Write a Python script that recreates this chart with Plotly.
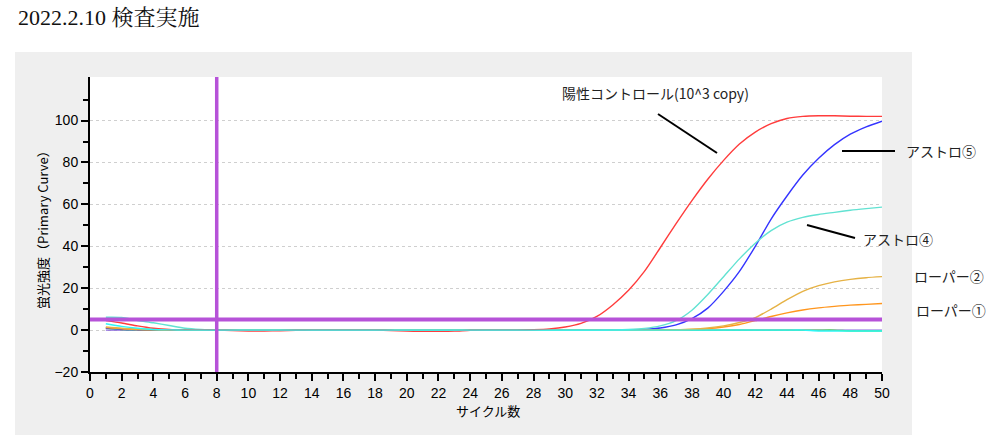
import plotly.graph_objects as go

# ---------------- data ----------------
cycles = list(range(1, 51))

positive_control = [4.5, 3.4, 2.0, 0.9, 0.3, 0.1, 0.1, 0.0, -0.2, -0.4,
                    -0.4, -0.3, -0.1, 0.0, 0.0, 0.0, 0.0, 0.0, -0.2, -0.5,
                    -0.6, -0.6, -0.5, -0.1, 0.0, 0.0, 0.0, 0.2, 0.6, 1.5,
                    3.2, 6.5, 12.0, 19.0, 28.0, 39.3, 50.8, 61.8, 72.0, 81.0,
                    88.8, 94.5, 98.5, 101.0, 102.0, 102.3, 102.3, 102.1, 102.0, 102.0]

astro5 = [1.0, 0.4, 0.2, 0.1] + [0.0] * 30 + \
         [0.3, 1.0, 2.5, 5.5, 10.5, 18.5, 28.0, 40.0, 53.0, 64.0,
          74.0, 82.0, 88.5, 93.5, 97.0, 99.7]

astro4 = [6.1, 6.0, 4.6, 3.5, 2.2, 0.9, 0.3] + [0.0] * 25 + \
         [0.1, 0.3, 0.8, 2.0, 4.5, 9.5, 17.0, 25.5, 34.0, 41.5,
          47.5, 51.5, 53.8, 55.2, 56.2, 57.2, 58.0, 58.7]

roper2 = [1.5, 0.9, 0.6, 0.4, 0.2, 0.1] + [0.0] * 30 + \
         [0.1, 0.4, 1.0, 2.0, 3.6, 6.0, 10.0, 14.5, 18.5, 21.2,
          23.0, 24.2, 25.0, 25.5]

roper1 = [1.2, 0.6, 0.3, 0.1] + [0.0] * 32 + \
         [0.1, 0.3, 0.7, 1.5, 2.7, 4.5, 6.5, 8.2, 9.6, 10.6,
          11.3, 11.9, 12.3, 12.7]

neg_purple = [0.0] * 50
neg_green = [0.8, 0.3, 0.1] + [0.0] * 44 + [-0.4, -0.4, -0.4]
neg_cyan = [3.0, 1.8, 0.9, 0.3, 0.1] + [0.0] * 40 + [-0.4] * 5

threshold = 5
cutoff_cycle = 8

x_major_ticks = list(range(0, 51, 2))
x_minor_ticks = list(range(1, 50, 2))
y_major_ticks = [-20, 0, 20, 40, 60, 80, 100]
y_minor_ticks = [-10, 10, 30, 50, 70, 90, 110]

series = [
    ("negative (purple)", neg_purple, "#8866dd"),
    ("negative (green)", neg_green, "#55dd55"),
    ("アストロ⑤", astro5, "#3434ff"),
    ("ローパー①", roper1, "#ff961e"),
    ("ローパー②", roper2, "#e6b245"),
    ("アストロ④", astro4, "#62e2d2"),
    ("陽性コントロール", positive_control, "#ff3c3c"),
    ("negative (cyan)", neg_cyan, "#2ef6f6"),
]

# ---------------- geometry helpers ----------------
W, H = 1000, 441
L, R, T, B = 90, 118, 77, 69
PW = W - L - R
PH = H - T - B


def px(x):
    return (x - L) / PW


def py(y):
    return (H - B - y) / PH


fig = go.Figure()
for name, vals, col in series:
    fig.add_trace(go.Scatter(x=cycles, y=vals, mode="lines", name=name,
                             line=dict(color=col, width=1.4, shape="spline", smoothing=0.7),
                             showlegend=False, hoverinfo="skip"))

jp = "Noto Sans CJK JP"
tickfont = dict(family="Liberation Sans, Arial, sans-serif", size=14, color="black")

shapes = [
    # grey panel
    dict(type="rect", xref="paper", yref="paper", x0=px(15), x1=px(912),
         y0=py(435), y1=py(52), fillcolor="#efefef", line=dict(width=0), layer="below"),
    # white plotting area
    dict(type="rect", xref="x domain", yref="y domain", x0=0, x1=1, y0=0, y1=1,
         fillcolor="white", line=dict(width=0), layer="below"),
    # threshold line
    dict(type="line", xref="paper", yref="y", x0=0, x1=1, y0=threshold, y1=threshold,
         line=dict(color="#b652d8", width=4), layer="above"),
    # cycle cut-off line
    dict(type="line", xref="x", yref="paper", x0=cutoff_cycle, x1=cutoff_cycle, y0=0, y1=1,
         line=dict(color="#b652d8", width=3.5), layer="above"),
    # callout lines
    dict(type="line", xref="paper", yref="paper", x0=px(658), y0=py(114), x1=px(717), y1=py(153),
         line=dict(color="black", width=2)),
    dict(type="line", xref="paper", yref="paper", x0=px(842), y0=py(151), x1=px(895), y1=py(151),
         line=dict(color="black", width=2)),
    dict(type="line", xref="paper", yref="paper", x0=px(807), y0=py(225), x1=px(855), y1=py(238),
         line=dict(color="black", width=2)),
]

labelfont = dict(family=jp, size=14, color="#222222")
annotations = [
    dict(text="2022.2.10 検査実施", xref="paper", yref="paper", x=px(16), y=py(17),
         xanchor="left", yanchor="middle", showarrow=False,
         font=dict(family="Liberation Serif, Noto Serif CJK JP, Noto Sans CJK JP, serif",
                   size=22, color="#111111")),
    dict(text="陽性コントロール(10^3 copy)", xref="paper", yref="paper", x=px(655), y=py(93),
         xanchor="center", yanchor="middle", showarrow=False, font=labelfont),
    dict(text="アストロ⑤", xref="paper", yref="paper", x=px(941), y=py(151),
         xanchor="center", yanchor="middle", showarrow=False, font=labelfont),
    dict(text="アストロ④", xref="paper", yref="paper", x=px(898), y=py(239),
         xanchor="center", yanchor="middle", showarrow=False, font=labelfont),
    dict(text="ローパー②", xref="paper", yref="paper", x=px(949), y=py(276),
         xanchor="center", yanchor="middle", showarrow=False, font=labelfont),
    dict(text="ローパー①", xref="paper", yref="paper", x=px(951), y=py(310),
         xanchor="center", yanchor="middle", showarrow=False, font=labelfont),
    dict(text="サイクル数", xref="paper", yref="paper", x=px(488), y=py(410),
         xanchor="center", yanchor="middle", showarrow=False,
         font=dict(family=jp, size=13, color="black")),
    dict(text="蛍光強度（Primary Curve）", xref="paper", yref="paper", x=px(42), y=py(227),
         xanchor="center", yanchor="middle", showarrow=False, textangle=-90,
         font=dict(family=jp, size=13, color="black")),
]

fig.update_layout(
    width=W, height=H,
    margin=dict(l=L, r=R, t=T, b=B, pad=0),
    paper_bgcolor="white",
    plot_bgcolor="white",
    shapes=shapes,
    annotations=annotations,
    xaxis=dict(range=[0, 50], tickvals=x_major_ticks, ticks="outside", ticklen=7,
               tickwidth=2, tickcolor="black", showline=True, linecolor="black",
               linewidth=2, showgrid=False, zeroline=False, tickfont=tickfont,
               minor=dict(tickvals=x_minor_ticks, ticks="outside", ticklen=5,
                          tickwidth=2, tickcolor="black", showgrid=False)),
    yaxis=dict(range=[-20, 120.8], tickvals=y_major_ticks, ticks="outside", ticklen=7,
               tickwidth=2, tickcolor="black", showline=True, linecolor="black",
               linewidth=2, showgrid=True, gridcolor="#cfcfcf", griddash="3px,3px",
               gridwidth=1, zeroline=False, tickfont=tickfont,
               minor=dict(tickvals=y_minor_ticks, ticks="outside", ticklen=5,
                          tickwidth=2, tickcolor="black", showgrid=False)),
)

fig.write_html("out.html")
